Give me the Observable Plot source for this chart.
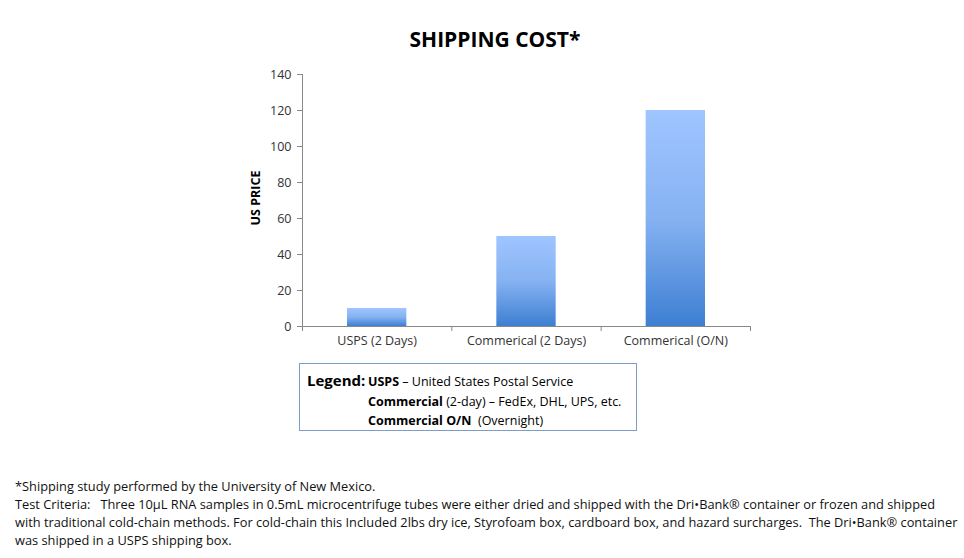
<!DOCTYPE html>
<html><head><meta charset="utf-8">
<script src="https://cdn.jsdelivr.net/npm/d3@7"></script>
<script src="https://cdn.jsdelivr.net/npm/@observablehq/plot@0.6"></script>
<style>
body{margin:0;background:#fff;}
#wrap{position:relative;width:964px;height:558px;overflow:hidden;font-family:"Open Sans",sans-serif;color:#000;}
#chart{position:absolute;left:0;top:0;}
.title{position:absolute;left:0;width:990px;top:26px;text-align:center;font-weight:bold;font-size:21px;line-height:26px;}
.ylab{position:absolute;left:255px;top:198px;transform:translate(-50%,-50%) rotate(-90deg);font-weight:bold;font-size:12.5px;white-space:nowrap;}
.legend{position:absolute;left:299px;top:363px;width:336px;height:66px;border:1px solid #7d9cc8;}
.legend div{position:absolute;white-space:pre;font-size:12.5px;line-height:18px;}
.foot{position:absolute;left:15px;font-size:12.8px;line-height:18px;white-space:pre;color:#111;}
</style></head>
<body>
<div id="wrap">
  <div class="title" id="title"></div>
  <div id="chart"></div>
  <div class="ylab" id="ylab"></div>
  <div class="legend" id="legend"></div>
  <div id="foot"></div>
</div>
<script>
const titleText = "SHIPPING COST*";
const yLabel = "US PRICE";
const categories = ["USPS (2 Days)", "Commerical (2 Days)", "Commerical (O/N)"];
const prices = [10, 50, 120];
const yTicks = [0, 20, 40, 60, 80, 100, 120, 140];
const legendLines = [
  ["USPS", " \u2013 United States Postal Service"],
  ["Commercial", " (2-day) \u2013 FedEx, DHL, UPS, etc."],
  ["Commercial O/N", "  (Overnight)"]
];
const footLines = [
  "*Shipping study performed by the University of New Mexico.",
  "Test Criteria:   Three 10\u00b5L RNA samples in 0.5mL microcentrifuge tubes were either dried and shipped with the Dri\u2022Bank\u00ae container or frozen and shipped",
  "with traditional cold-chain methods. For cold-chain this Included 2lbs dry ice, Styrofoam box, cardboard box, and hazard surcharges.  The Dri\u2022Bank\u00ae container",
  "was shipped in a USPS shipping box."
];

const data = categories.map((c, i) => ({cat: c, i, price: prices[i]}));
const gray = "#888888";

const chart = Plot.plot({
  width: 964, height: 360,
  marginLeft: 302, marginRight: 214, marginTop: 74, marginBottom: 34,
  x: {domain: [0, categories.length]},
  y: {domain: [0, 140]},
  style: {fontFamily: "'Open Sans', sans-serif", fontSize: "12.5px", color: "#333", background: "transparent"},
  marks: [
    Plot.rectY(data, {x1: "i", x2: d => d.i + 1, y: "price", fill: "url(#barGrad)", insetLeft: 45, insetRight: 45}),
    Plot.axisY({ticks: yTicks, tickSize: 5, tickPadding: 6, stroke: gray, fill: "#333", label: null}),
    Plot.axisX({ticks: d3.range(categories.length + 1), tickSize: 5, tickFormat: () => "", stroke: gray, label: null}),
    Plot.axisX({ticks: categories.map((_, i) => i + 0.5), tickSize: 0, tickPadding: 10, tickFormat: v => categories[Math.floor(v)], fill: "#333", label: null}),
    Plot.ruleY([0], {stroke: gray}),
    Plot.ruleX([0], {stroke: gray})
  ]
});
const ns = "http://www.w3.org/2000/svg";
const defs = document.createElementNS(ns, "defs");
defs.innerHTML = '<linearGradient id="barGrad" x1="0" y1="0" x2="0" y2="1"><stop offset="0" stop-color="#9fc5ff"/><stop offset="0.5" stop-color="#86b2f2"/><stop offset="1" stop-color="#3d7fd2"/></linearGradient>';
chart.insertBefore(defs, chart.firstChild);
document.getElementById("chart").appendChild(chart);

document.getElementById("title").textContent = titleText;
document.getElementById("ylab").textContent = yLabel;

const leg = document.getElementById("legend");
const lg = document.createElement("div");
lg.style.left = "7px"; lg.style.top = "7px"; lg.style.fontSize = "15px"; lg.style.fontWeight = "bold";
lg.textContent = "Legend:";
leg.appendChild(lg);
legendLines.forEach((l, k) => {
  const d = document.createElement("div");
  d.style.left = "68px"; d.style.top = (9 + k * 19.5) + "px";
  const b = document.createElement("b"); b.textContent = l[0];
  d.appendChild(b); d.appendChild(document.createTextNode(l[1]));
  leg.appendChild(d);
});

const foot = document.getElementById("foot");
footLines.forEach((t, k) => {
  const d = document.createElement("div");
  d.className = "foot"; d.style.top = (477 + k * 18) + "px";
  d.textContent = t;
  foot.appendChild(d);
});
</script>
</body></html>
